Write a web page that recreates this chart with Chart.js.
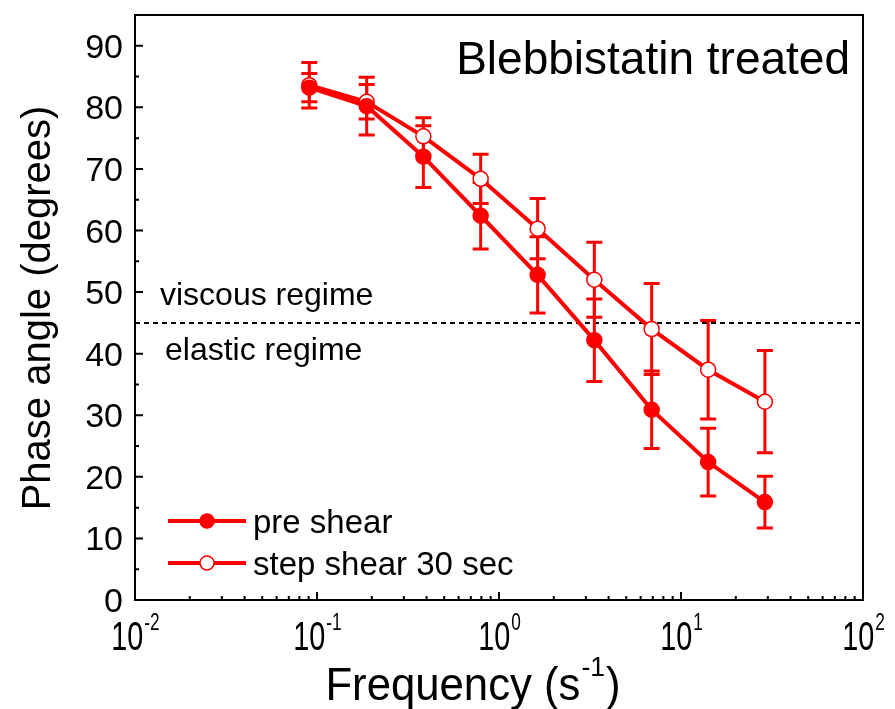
<!DOCTYPE html>
<html>
<head>
<meta charset="utf-8">
<script src="https://cdn.jsdelivr.net/npm/chart.js@4.4.1/dist/chart.umd.min.js"></script>
<style>
  html, body { margin: 0; padding: 0; background: #fff; }
  #wrap { width: 895px; height: 709px; }
</style>
</head>
<body>
<div id="wrap"><canvas id="phaseChart" width="895" height="709"></canvas></div>
<script>
// values
const frequency = [0.0907, 0.1875, 0.384, 0.793, 1.63, 3.34, 6.9, 14.1, 28.9];
const preShear = [83.2, 80.2, 72.0, 62.4, 52.8, 42.2, 30.9, 22.4, 15.9];
const preShearErr = [2.3, 4.7, 5.0, 5.4, 6.2, 6.7, 6.3, 5.5, 4.2];
const stepShear = [83.6, 80.9, 75.3, 68.4, 60.3, 52.0, 44.0, 37.4, 32.2];
const stepShearErr = [3.7, 2.8, 3.0, 4.0, 4.9, 6.1, 7.4, 8.0, 8.3];
const yTicks = [0, 10, 20, 30, 40, 50, 60, 70, 80, 90];
const xTickExp = [-2, -1, 0, 1, 2];
const seriesNames = ["pre shear", "step shear 30 sec"];
const regimeBoundary = 45;

const RED = "#ff0000";
const FONT = "'Liberation Sans', Arial, sans-serif";

function toPoints(xs, ys) {
  return xs.map((x, i) => ({ x, y: ys[i] }));
}

function txt(ctx, s, x, y, size, align, sx) {
  ctx.save();
  ctx.translate(x, y);
  ctx.scale(sx || 1, 1);
  ctx.font = size + "px " + FONT;
  ctx.textAlign = align || "left";
  ctx.textBaseline = "alphabetic";
  ctx.fillStyle = "#000";
  ctx.fillText(s, 0, 0);
  ctx.restore();
}

function textWidth(ctx, s, size, sx) {
  ctx.save();
  ctx.font = size + "px " + FONT;
  const w = ctx.measureText(s).width * (sx || 1);
  ctx.restore();
  return w;
}

const errorBars = {
  id: "errorBars",
  beforeDatasetsDraw(chart) {
    const { ctx, chartArea: a, scales: { x, y } } = chart;
    // 45 degree boundary
    ctx.save();
    ctx.strokeStyle = "#000";
    ctx.lineWidth = 2;
    ctx.setLineDash([5, 4]);
    const yb = y.getPixelForValue(regimeBoundary);
    ctx.beginPath();
    ctx.moveTo(a.left, yb);
    ctx.lineTo(a.right, yb);
    ctx.stroke();
    ctx.restore();

    const sets = [[preShear, preShearErr], [stepShear, stepShearErr]];
    ctx.save();
    ctx.strokeStyle = RED;
    ctx.lineWidth = 3;
    sets.forEach(([vals, errs]) => {
      vals.forEach((v, i) => {
        const px = x.getPixelForValue(frequency[i]);
        const top = y.getPixelForValue(v + errs[i]);
        const bot = y.getPixelForValue(v - errs[i]);
        ctx.beginPath();
        ctx.moveTo(px, top); ctx.lineTo(px, bot);
        ctx.moveTo(px - 8, top); ctx.lineTo(px + 8, top);
        ctx.moveTo(px - 8, bot); ctx.lineTo(px + 8, bot);
        ctx.stroke();
      });
    });
    ctx.restore();
  }
};

const frame = {
  id: "frame",
  afterDraw(chart) {
    const { ctx, chartArea: a, scales: { x, y } } = chart;
    ctx.save();
    ctx.strokeStyle = "#000";
    ctx.lineWidth = 2;
    ctx.strokeRect(a.left, a.top, a.right - a.left, a.bottom - a.top);

    // y ticks, inward
    ctx.beginPath();
    for (let v = 0; v <= 95; v += 5) {
      const py = y.getPixelForValue(v);
      const len = v % 10 === 0 ? 8 : 4;
      ctx.moveTo(a.left, py); ctx.lineTo(a.left + len, py);
    }
    // x ticks, inward
    for (let e = -2; e < 2; e++) {
      for (let m = 1; m < 10; m++) {
        const px = x.getPixelForValue(m * Math.pow(10, e));
        const len = m === 1 ? 8 : 4;
        ctx.moveTo(px, a.bottom); ctx.lineTo(px, a.bottom - len);
      }
    }
    ctx.stroke();
    ctx.restore();

    yTicks.forEach(v => {
      txt(ctx, String(v), a.left - 12, y.getPixelForValue(v) + 12, 34, "right", 1);
    });

    xTickExp.forEach(e => {
      const px = x.getPixelForValue(Math.pow(10, e));
      const wb = textWidth(ctx, "10", 40, 0.72);
      const we = textWidth(ctx, String(e), 24, 0.72);
      const left = px - (wb + we) / 2;
      txt(ctx, "10", left, 650, 40, "left", 0.72);
      txt(ctx, String(e), left + wb + 1, 630, 24, "left", 0.72);
    });

    // axis titles
    const xt = "Frequency (s";
    const w1 = textWidth(ctx, xt, 46, 0.95);
    const w2 = textWidth(ctx, "-1", 28, 0.95);
    const w3 = textWidth(ctx, ")", 46, 0.95);
    const xs = 472 - (w1 + w2 + w3) / 2;
    txt(ctx, xt, xs, 700, 46, "left", 0.95);
    txt(ctx, "-1", xs + w1 + 1, 676, 28, "left", 0.95);
    txt(ctx, ")", xs + w1 + w2 + 2, 700, 46, "left", 0.95);

    ctx.save();
    ctx.translate(50, 308);
    ctx.rotate(-Math.PI / 2);
    txt(ctx, "Phase angle (degrees)", 0, 0, 40, "center", 1);
    ctx.restore();

    txt(ctx, "Blebbistatin treated", 850, 74, 46, "right", 1);
    txt(ctx, "viscous regime", 160, 305, 32, "left", 1);
    txt(ctx, "elastic regime", 165, 360, 32, "left", 1);

    // legend
    const rows = [[521, true], [563, false]];
    rows.forEach(([ly, filled], i) => {
      ctx.save();
      ctx.strokeStyle = RED;
      ctx.lineWidth = 4;
      ctx.beginPath();
      ctx.moveTo(168, ly); ctx.lineTo(246, ly);
      ctx.stroke();
      ctx.beginPath();
      ctx.arc(207, ly, 7, 0, Math.PI * 2);
      ctx.fillStyle = filled ? RED : "#fff";
      ctx.fill();
      ctx.lineWidth = 1.5;
      ctx.stroke();
      ctx.restore();
      txt(ctx, seriesNames[i], 253, ly + 12, 33, "left", 1);
    });
  }
};

new Chart(document.getElementById("phaseChart"), {
  type: "line",
  data: {
    datasets: [
      {
        label: seriesNames[0],
        data: toPoints(frequency, preShear),
        borderColor: RED,
        borderWidth: 4,
        pointRadius: 7.5,
        pointBackgroundColor: RED,
        pointBorderColor: RED,
        pointBorderWidth: 1.5,
        tension: 0
      },
      {
        label: seriesNames[1],
        data: toPoints(frequency, stepShear),
        borderColor: RED,
        borderWidth: 4,
        pointRadius: 7.5,
        pointBackgroundColor: "#fff",
        pointBorderColor: RED,
        pointBorderWidth: 1.5,
        tension: 0
      }
    ]
  },
  options: {
    responsive: false,
    animation: false,
    layout: { padding: { left: 135, top: 15, right: 32, bottom: 109 } },
    plugins: {
      legend: { display: false },
      tooltip: { enabled: false }
    },
    scales: {
      x: { type: "logarithmic", min: 0.01, max: 100, display: false },
      y: { type: "linear", min: 0, max: 95, display: false }
    }
  },
  plugins: [errorBars, frame]
});
</script>
</body>
</html>
